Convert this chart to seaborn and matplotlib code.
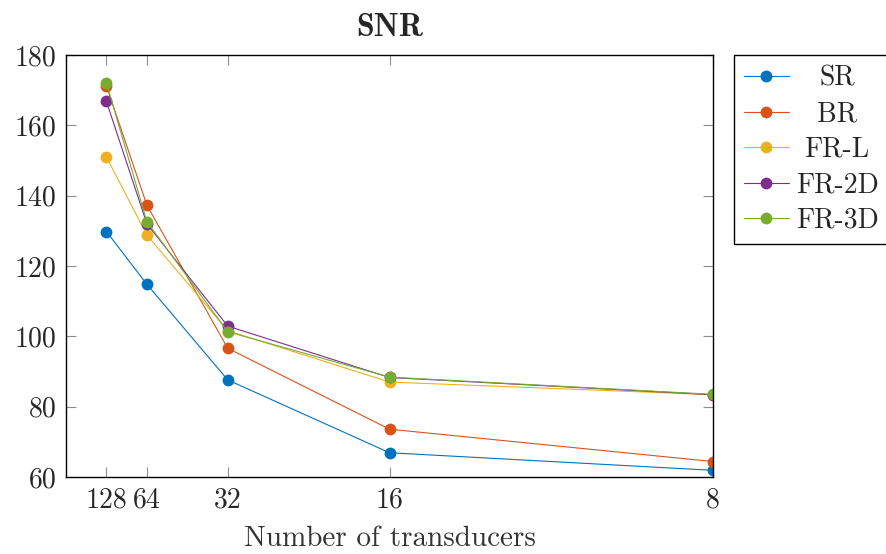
import matplotlib
matplotlib.use("Agg")
import matplotlib.pyplot as plt
import seaborn as sns
import pandas as pd
import numpy as np

transducers = [128, 64, 32, 16, 8]
sr = [129.8, 114.8, 87.6, 66.9, 61.9]
br = [171.2, 137.3, 96.6, 73.6, 64.4]
fr_l = [151.0, 128.8, 101.6, 87.0, 83.4]
fr_2d = [166.8, 132.0, 102.9, 88.3, 83.4]
fr_3d = [172.1, 132.6, 101.3, 88.4, 83.5]
series_names = ["SR", "BR", "FR-L", "FR-2D", "FR-3D"]
colors = ["#0072BD", "#D95319", "#EDB120", "#7E2F8E", "#77AC30"]
yticks = [60, 80, 100, 120, 140, 160, 180]

sns.set_theme(style="white")
plt.rcParams["font.family"] = ["cmr10", "DejaVu Serif"]
plt.rcParams["mathtext.fontset"] = "cm"
plt.rcParams["axes.formatter.use_mathtext"] = True

rows = []
for name, vals in zip(series_names, [sr, br, fr_l, fr_2d, fr_3d]):
    for n, v in zip(transducers, vals):
        rows.append({"inv": 1.0 / n, "SNR": v, "Method": name})
df = pd.DataFrame(rows)

fig = plt.figure(figsize=(8.86, 5.54), dpi=100)
ax = fig.add_axes([66 / 886, 1 - 477 / 554, (713 - 66) / 886, (477 - 55) / 554])

sns.lineplot(data=df, x="inv", y="SNR", hue="Method", palette=colors,
             hue_order=series_names, marker="o", markersize=8.5,
             markeredgewidth=0, linewidth=0.8, ax=ax, sort=False)

ax.set_xlim(0, 0.125)
ax.set_ylim(60, 180)
ax.set_xticks([1.0 / n for n in transducers])
ax.set_xticklabels([str(n) for n in transducers])
ax.set_yticks(yticks)
ax.set_yticklabels([str(t) for t in yticks])
ax.tick_params(axis="both", direction="in", length=7, width=0.8, color="#8c8c8c",
               labelsize=20, top=True, right=True, bottom=True, left=True, pad=7)
for s in ax.spines.values():
    s.set_color("black")
    s.set_linewidth(1.0)
ax.set_xlabel("Number of transducers", fontsize=21, labelpad=9, color="#333333")
ax.set_ylabel("")
ax.set_title("SNR", fontsize=23, fontfamily="cmb10", pad=14)

handles, labels = ax.get_legend_handles_labels()
leg = ax.legend(handles, labels, loc="upper left", bbox_to_anchor=(1.032, 1.0),
                fontsize=20, frameon=True, fancybox=False, borderaxespad=0,
                handlelength=1.6, handletextpad=0.25, labelspacing=0.33,
                borderpad=0.38)
leg.get_frame().set_edgecolor("black")
leg.get_frame().set_linewidth(1.0)
leg.get_frame().set_alpha(1.0)

# center legend labels within their column, as in the reference
fig.canvas.draw()
renderer = fig.canvas.get_renderer()
texts = leg.get_texts()
widths = [t.get_window_extent(renderer).width for t in texts]
maxw = max(widths)
for t, w in zip(texts, widths):
    t.set_position(((maxw - w) / 2.0, 0))

fig.savefig("out.png", dpi=100)
